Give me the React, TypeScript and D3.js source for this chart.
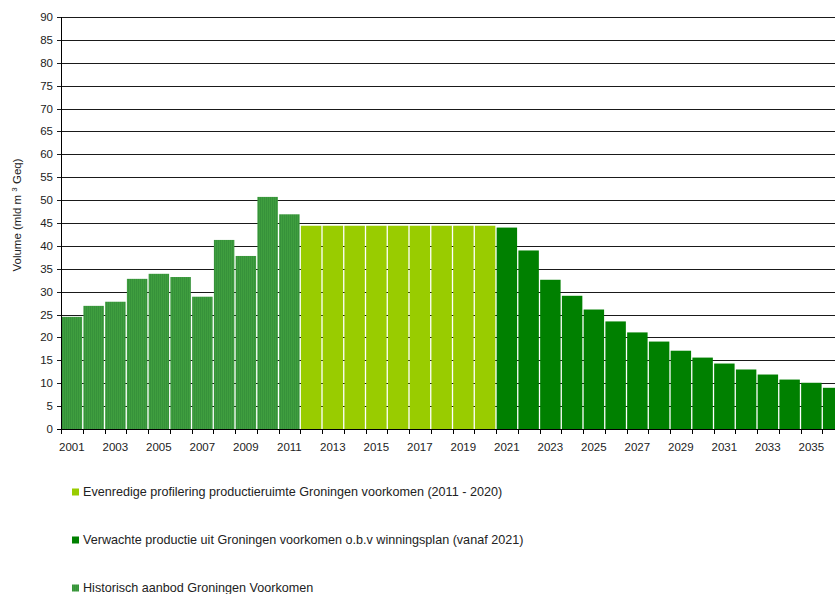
import React from "react";
import * as d3 from "d3";

const years = d3.range(2001, 2037).map(String);
const historical = [24.5, 26.9, 27.8, 32.8, 33.9, 33.2, 28.9, 41.3, 37.8, 50.7, 46.9];
const profiled = [44.4, 44.4, 44.4, 44.4, 44.4, 44.4, 44.4, 44.4, 44.4];
const expected = [44.0, 39.0, 32.6, 29.1, 26.1, 23.5, 21.1, 19.1, 17.1, 15.6, 14.3, 13.0, 11.9, 10.8, 10.1, 9.0];
const yTicks = d3.range(0, 91, 5);
const xLabels = years.filter((_, i) => i % 2 === 0);
const legendItems = [
  { label: "Evenredige profilering productieruimte Groningen voorkomen (2011 - 2020)", fill: "#99cc00" },
  { label: "Verwachte productie uit Groningen voorkomen o.b.v winningsplan (vanaf 2021)", fill: "#008000" },
  { label: "Historisch aanbod Groningen Voorkomen", fill: "url(#stripes)" },
];

const W = 835;
const H = 594;
const left = 61;
const top = 17;
const bottom = 429;
const band = 21.75;

export default function App() {
  const x = d3.scaleBand<string>().domain(years).range([left, left + band * years.length]).paddingInner(0.06).paddingOuter(0.03);
  const y = d3.scaleLinear().domain([0, 90]).range([bottom, top]);
  const series = [
    ...historical.map((v) => ({ v, fill: "url(#stripes)" })),
    ...profiled.map((v) => ({ v, fill: "#99cc00" })),
    ...expected.map((v) => ({ v, fill: "#008000" })),
  ];
  const font = "'Liberation Sans', Arial, sans-serif";
  const step = x.step();
  return (
    <svg width={W} height={H} style={{ position: "absolute", left: 0, top: 0, background: "#fff" }} fontFamily={font}>
      <defs>
        <pattern id="stripes" patternUnits="userSpaceOnUse" width={2} height={4}>
          <rect width={2} height={4} fill="#3f9e3f" />
          <rect width={1} height={4} fill="#36923a" />
        </pattern>
      </defs>
      {yTicks.map((t) => (
        <g key={t}>
          <line x1={left - 4} x2={W} y1={Math.round(y(t)) + 0.5} y2={Math.round(y(t)) + 0.5} stroke="#1a1a1a" strokeWidth={1} />
          <text x={53} y={y(t)} dy="0.35em" textAnchor="end" fontSize={11.5} fill="#222">{t}</text>
        </g>
      ))}
      {series.map((d, i) => (
        <rect key={years[i]} x={x(years[i])} y={y(d.v)} width={x.bandwidth()} height={bottom - y(d.v)} fill={d.fill} />
      ))}
      <line x1={left + 0.5} x2={left + 0.5} y1={top} y2={bottom + 1} stroke="#000" />
      <line x1={left - 4} x2={W} y1={bottom + 0.5} y2={bottom + 0.5} stroke="#000" />
      {d3.range(0, years.length + 1).map((i) => (
        <line key={i} x1={Math.round(left + i * step) + 0.5} x2={Math.round(left + i * step) + 0.5} y1={bottom} y2={bottom + 5} stroke="#000" />
      ))}
      {xLabels.map((l) => (
        <text key={l} x={(x(l) as number) + x.bandwidth() / 2} y={451} textAnchor="middle" fontSize={11.5} fill="#222">{l}</text>
      ))}
      <text transform={`translate(21,215) rotate(-90)`} textAnchor="middle" fontSize={11.5} fill="#222">
        Volume (mld m <tspan dy={-4} fontSize={8}>3</tspan><tspan dy={4}> Geq)</tspan>
      </text>
      {legendItems.map((d, i) => (
        <g key={d.label} transform={`translate(72,${492 + i * 48})`}>
          <rect x={0} y={-3.5} width={7} height={7} fill={d.fill} />
          <text x={11} y={0} dy="0.35em" fontSize={12.6} fill="#222">{d.label}</text>
        </g>
      ))}
    </svg>
  );
}
